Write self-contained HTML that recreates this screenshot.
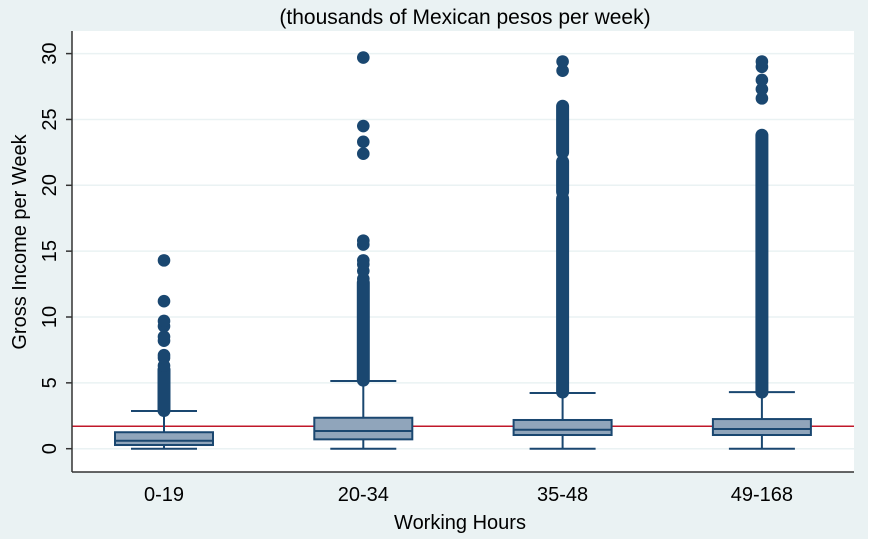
<!DOCTYPE html>
<html><head><meta charset="utf-8"><style>
html,body{margin:0;padding:0;background:#fff}
svg{display:block;font-family:"Liberation Sans",sans-serif}
</style></head><body>
<svg width="872" height="541" viewBox="0 0 872 541">
<rect x="0" y="0" width="868" height="539" fill="#eaf2f3"/>
<rect x="72" y="31" width="782" height="441" fill="#fff"/>
<text x="465" y="24" font-size="21" text-anchor="middle" fill="#000">(thousands of Mexican pesos per week)</text>
<text transform="translate(26,242) rotate(-90)" font-size="20" text-anchor="middle" fill="#000">Gross Income per Week</text>
<text x="460" y="529" font-size="20" text-anchor="middle" fill="#000">Working Hours</text>
<g id="grid"></g><g id="yaxis"></g><g id="ref"></g><g id="boxes"></g><g id="xaxis"></g>
<line x1="72" y1="31" x2="72" y2="472" stroke="#333" stroke-width="1.5"/>
<line x1="72" y1="472" x2="854" y2="472" stroke="#333" stroke-width="1.5"/>
</svg>
<script>
const categories = ["0-19","20-34","35-48","49-168"];
const q1 = [0.28, 0.71, 1.04, 1.04];
const medians = [0.6, 1.34, 1.44, 1.5];
const q3 = [1.25, 2.35, 2.18, 2.25];
const whiskerLow = [0, 0, 0, 0];
const whiskerHigh = [2.86, 5.14, 4.23, 4.3];
const denseOutliers = [
  [[2.9,6.0]],
  [[5.2,12.6]],
  [[4.3,19.0],[19.5,21.8],[22.5,26.0]],
  [[4.3,23.8]]
];
const outliers = [
  [6.3,6.9,7.1,8.2,8.5,9.3,9.7,11.2,14.3],
  [12.9,13.5,14.0,14.3,15.5,15.8,22.4,23.3,24.5,29.7],
  [28.7,29.4],
  [26.6,27.3,28.0,29.0,29.4]
];
const yTicks = [0,5,10,15,20,25,30];
const refValue = 1.7;

const NS="http://www.w3.org/2000/svg";
const y = v => 448.7 - v*13.17;
const x = i => 164 + i*199.3;
function mk(tag, attrs, parent){const e=document.createElementNS(NS,tag);for(const k in attrs)e.setAttribute(k,attrs[k]);document.getElementById(parent).appendChild(e);return e;}
const col="#1a4770";
yTicks.forEach(t=>{
  let g=mk("line",{x1:72,x2:854,y1:y(t),y2:y(t),stroke:"#eaf2f3","stroke-width":1.5},"grid");
  
  
  let tk=mk("line",{x1:66,x2:72,y1:y(t),y2:y(t),stroke:"#333","stroke-width":1.5},"yaxis");
  
  
  let tx=mk("text",{transform:`translate(56,${y(t)}) rotate(-90)`,"font-size":20,"text-anchor":"middle",fill:"#000"},"yaxis");
  tx.textContent=t;
  
  
});
let r=mk("line",{x1:72,x2:854,y1:y(refValue),y2:y(refValue),stroke:"#c0182a","stroke-width":1.5},"ref");


categories.forEach((c,i)=>{
  const cx=x(i);
  let w=mk("line",{x1:cx,x2:cx,y1:y(whiskerLow[i]),y2:y(whiskerHigh[i]),stroke:col,"stroke-width":2},"boxes");
  
  
  [whiskerLow[i],whiskerHigh[i]].forEach(v=>{
    let cap=mk("line",{x1:cx-33,x2:cx+33,y1:y(v),y2:y(v),stroke:col,"stroke-width":2},"boxes");
    
    
  });
  denseOutliers[i].forEach(d=>{
    let l=mk("line",{x1:cx,x2:cx,y1:y(d[0]),y2:y(d[1]),stroke:col,"stroke-width":13,"stroke-linecap":"round"},"boxes");
    
    
  });
  outliers[i].forEach(v=>{
    let p=mk("circle",{cx:cx,cy:y(v),r:6.3,fill:col},"boxes");
    
    
  });
  let b=mk("rect",{x:cx-49,y:y(q3[i]),width:98,height:y(q1[i])-y(q3[i]),fill:"#90a5bb",stroke:col,"stroke-width":2},"boxes");
  
  
  let m=mk("line",{x1:cx-49,x2:cx+49,y1:y(medians[i]),y2:y(medians[i]),stroke:col,"stroke-width":2},"boxes");
  
  
  let tx=mk("text",{x:cx,y:501,"font-size":20,"text-anchor":"middle",fill:"#000"},"xaxis");
  tx.textContent=c;
  
  
});
</script>
</body></html>
